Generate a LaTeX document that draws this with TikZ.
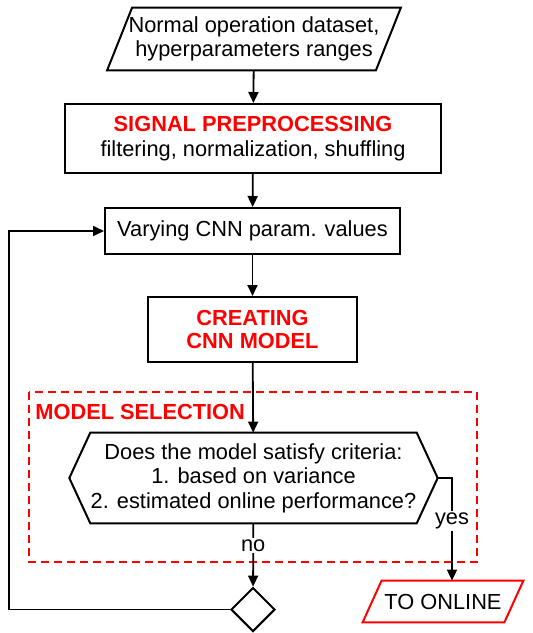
\documentclass[tikz,border=0pt]{standalone}
\usepackage{fontspec}
\setmainfont{Liberation Sans}
\usetikzlibrary{shapes.geometric,arrows.meta}

\begin{document}
\begin{tikzpicture}[x=0.5pt,y=-0.5pt,
    txt/.style={font=\fontsize{10.9}{12.2}\selectfont,align=center},
    box/.style={draw,line width=1pt,txt},
    arr/.style={line width=0.9pt,-{Triangle[length=5.5pt,width=5pt]}},
    lab/.style={txt,fill=white,inner sep=1pt}]
\useasboundingbox (0,0) rectangle (532,633);

% Input data (parallelogram)
\node[txt,minimum width=134pt,minimum height=31pt,inner sep=0pt] (in) at (254,39)
  {Normal operation dataset,\\hyperparameters ranges};
\draw[line width=1pt] ([xshift=-6.25pt]in.south west) -- ([xshift=6.25pt]in.north west)
  -- ([xshift=6.25pt]in.north east) -- ([xshift=-6.25pt]in.south east) -- cycle;

% Preprocessing
\node[box,minimum width=188pt,minimum height=34.5pt] (sig) at (253,138.5)
  {\textcolor{red}{\bfseries SIGNAL PREPROCESSING}\\filtering, normalization, shuffling};

% Parameter variation
\node[box,minimum width=147.5pt,minimum height=23pt] (var) at (252.5,231) {Varying CNN param. values};

% Model creation
\node[box,minimum width=104.5pt,minimum height=32.5pt,text=red,font=\fontsize{10.9}{11.6}\selectfont\bfseries] (create) at (252.5,329.5)
  {CREATING\\CNN MODEL};

% Model selection area (dashed)
\draw[red,line width=0.9pt,dash pattern=on 4pt off 2.5pt] (29,392) rectangle (477,562);
\node[txt,anchor=west,text=red,font=\fontsize{10.9}{12.2}\selectfont\bfseries,inner sep=1pt] (selLab) at (33,412) {MODEL SELECTION};

% Criteria (hexagon)
\node[txt,minimum width=161.5pt,minimum height=45pt,inner sep=0pt] (crit) at (253.5,478)
  {Does the model satisfy criteria:\\1. based on variance\\2. estimated online performance?};
\draw[line width=1pt] (crit.north west) -- (crit.north east) -- ([xshift=10.5pt]crit.east) coordinate (critE)
  -- (crit.south east) -- (crit.south west) -- ([xshift=-10.5pt]crit.west) -- cycle;

% Decision and output
\node[draw,diamond,line width=1pt,minimum size=22pt,inner sep=0pt,aspect=1] (dec) at (253,609.5) {};
\node[txt,minimum width=70.5pt,minimum height=20.5pt,inner sep=0pt] (online) at (443,601.5) {TO ONLINE};
\draw[red,line width=1pt] ([xshift=-4.75pt]online.south west) -- ([xshift=4.75pt]online.north west)
  -- ([xshift=4.75pt]online.north east) -- ([xshift=-4.75pt]online.south east) -- cycle;
\coordinate (loop) at (9,609.5);

% Connectors
\draw[arr] (in) -- (sig);
\draw[arr] (sig) -- (var);
\draw[arr] (var) -- (create);
\draw[arr] (create) -- (crit);
\draw[arr] (crit) -- node[lab,pos=0.35] {no} (dec);
\draw[arr] (critE) -| node[lab,pos=0.71] {yes} ([xshift=4.5pt]online.north);
\draw[arr] (dec.west) -- (loop) |- (var.west);
\end{tikzpicture}
\end{document}
